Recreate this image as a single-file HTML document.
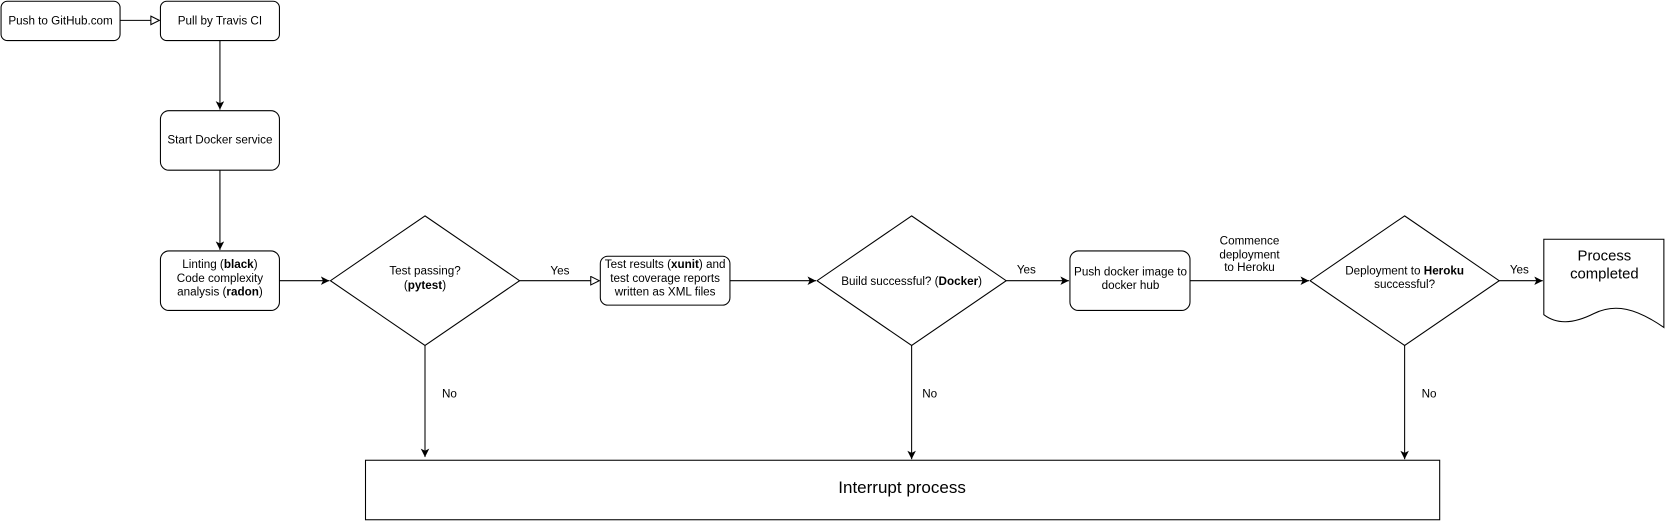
<!DOCTYPE html>
<html><head><meta charset="utf-8"><style>
html,body{margin:0;padding:0;background:#fff;}
svg{display:block;font-family:"Liberation Sans",sans-serif;}
</style></head><body>
<svg width="1666" height="521" viewBox="0 0 1568 490" xmlns="http://www.w3.org/2000/svg">
<defs>
<marker id="f" markerWidth="10" markerHeight="10" refX="8" refY="4" orient="auto" markerUnits="userSpaceOnUse"><path d="M0,0 L8,4 L0,8 L2,4 Z" fill="#000"/></marker>
<marker id="o" markerWidth="12" markerHeight="10" refX="9" refY="4.5" orient="auto" markerUnits="userSpaceOnUse"><path d="M1,0.5 L9,4.5 L1,8.5 Z" fill="#fff" stroke="#000"/></marker>
</defs>
<g fill="#fff" stroke="#000" stroke-width="1">
<rect x="1" y="1" width="112" height="37" rx="6"/>
<rect x="151" y="1" width="112" height="37" rx="6"/>
<rect x="151" y="104" width="112" height="56" rx="8"/>
<rect x="151" y="236" width="112" height="56" rx="8"/>
<polygon points="400,203 489,264 400,325 311,264"/>
<rect x="565" y="241" width="122" height="46" rx="7"/>
<polygon points="858,203 947,264 858,325 769,264"/>
<rect x="1007" y="236" width="113" height="56" rx="8"/>
<polygon points="1322,203 1411,264 1322,325 1233,264"/>
<path d="M1453,225 L1566,225 L1566,308 C1540,290 1520,285 1500,295 C1480,305 1465,305 1453,296 Z"/>
<rect x="344" y="433" width="1011" height="56"/>
</g>
<g stroke="#000" stroke-width="1" fill="none">
<line x1="113" y1="19" x2="150" y2="19" marker-end="url(#o)"/>
<line x1="207" y1="38" x2="207" y2="103" marker-end="url(#f)"/>
<line x1="207" y1="160" x2="207" y2="235" marker-end="url(#f)"/>
<line x1="263" y1="264" x2="310" y2="264" marker-end="url(#f)"/>
<line x1="489" y1="264" x2="564" y2="264" marker-end="url(#o)"/>
<line x1="687" y1="264" x2="768" y2="264" marker-end="url(#f)"/>
<line x1="947" y1="264" x2="1006" y2="264" marker-end="url(#f)"/>
<line x1="1120" y1="264" x2="1232" y2="264" marker-end="url(#f)"/>
<line x1="1411" y1="264" x2="1452" y2="264" marker-end="url(#f)"/>
<line x1="400" y1="325" x2="400" y2="430" marker-end="url(#f)"/>
<line x1="858" y1="325" x2="858" y2="432" marker-end="url(#f)"/>
<line x1="1322" y1="325" x2="1322" y2="432" marker-end="url(#f)"/>
</g>
<g font-size="11" text-anchor="middle" fill="#000">
<text x="57" y="23">Push to GitHub.com</text>
<text x="207" y="23">Pull by Travis CI</text>
<text x="207" y="135">Start Docker service</text>
<text x="207" y="252">Linting (<tspan font-weight="bold">black</tspan>)</text>
<text x="207" y="265">Code complexity</text>
<text x="207" y="278">analysis (<tspan font-weight="bold">radon</tspan>)</text>
<text x="400" y="258">Test passing?</text>
<text x="400" y="272">(<tspan font-weight="bold">pytest</tspan>)</text>
<text x="626" y="252">Test results (<tspan font-weight="bold">xunit</tspan>) and</text>
<text x="626" y="265">test coverage reports</text>
<text x="626" y="278">written as XML files</text>
<text x="858" y="268">Build successful? (<tspan font-weight="bold">Docker</tspan>)</text>
<text x="1064" y="259">Push docker image to</text>
<text x="1064" y="272">docker hub</text>
<text x="1322" y="258">Deployment to <tspan font-weight="bold">Heroku</tspan></text>
<text x="1322" y="271">successful?</text>
<text x="1176" y="230">Commence</text>
<text x="1176" y="243">deployment</text>
<text x="1176" y="255">to Heroku</text>
<text x="527" y="258">Yes</text>
<text x="966" y="257">Yes</text>
<text x="1430" y="257">Yes</text>
<text x="423" y="374">No</text>
<text x="875" y="374">No</text>
<text x="1345" y="374">No</text>
<text x="1510" y="245" font-size="14">Process</text>
<text x="1510" y="262" font-size="14">completed</text>
<text x="849" y="464" font-size="16">Interrupt process</text>
</g>
</svg>
</body></html>
